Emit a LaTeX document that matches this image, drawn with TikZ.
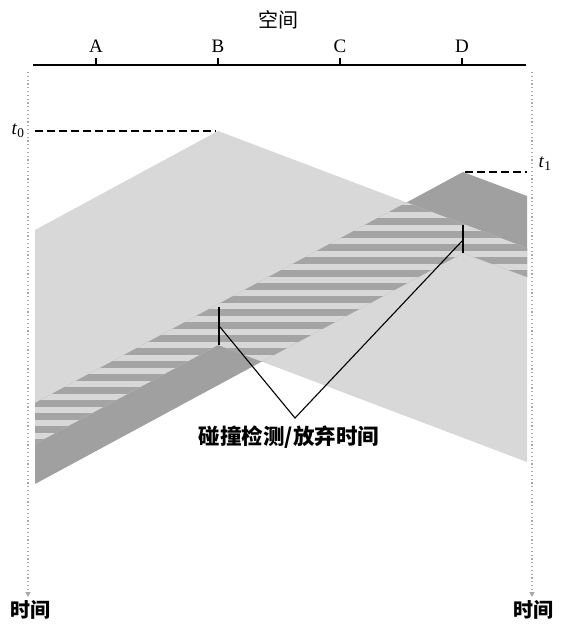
\documentclass[tikz,border=0pt]{standalone}
\usepackage{fontspec}
\setmainfont{Liberation Serif}
\newfontfamily\cjk{Noto Sans CJK SC}
\usetikzlibrary{arrows.meta}
\definecolor{lightsig}{HTML}{D8D8D8}
\definecolor{darksig}{HTML}{A0A0A0}
\definecolor{stripedark}{HTML}{A4A4A4}
\definecolor{dotgray}{HTML}{A8A8A8}
\tikzset{
  poslbl/.style={font=\fontsize{19}{22}\selectfont, inner sep=0pt},
  cjkreg/.style={font=\cjk\fontsize{20}{24}\selectfont, inner sep=0pt},
  cjkbold/.style={font=\cjk\bfseries\fontsize{20}{24}\selectfont, inner sep=0pt},
  cjkbig/.style={font=\cjk\bfseries\fontsize{21.5}{25}\selectfont, inner sep=0pt},
  timeaxis/.style={dotgray, line width=1.2pt, dash pattern=on 1.2pt off 2.6pt, -{Triangle[width=5pt,length=5pt]}},
  tmark/.style={line width=1.2pt, dash pattern=on 8pt off 4pt},
  cdbar/.style={line width=2.6pt},
  leader/.style={line width=1.1pt}
}
\begin{document}
\begin{tikzpicture}[x=1pt,y=-1pt]
\useasboundingbox (0,0) rectangle (563,626);

% signal from B (light) and from D (dark)
\def\Bpoly{(35,230) -- (218,131) -- (527,248) -- (527,462) -- (218,345) -- (35,444) -- cycle}
\def\Dpoly{(35,403) -- (463,172) -- (527,196) -- (527,277) -- (463,253) -- (35,484) -- cycle}
\fill[lightsig] \Bpoly;
\fill[darksig] \Dpoly;
\begin{scope}
  \clip \Bpoly;
  \fill[lightsig] \Dpoly;
  \clip \Dpoly;
  \foreach \k in {-8,...,16}{
    \fill[stripedark] (30,{283+13*\k}) rectangle (530,{289.5+13*\k});
  }
\end{scope}

% space axis
\draw[line width=1.2pt] (33,65) -- (526,65);
\foreach \x/\n in {96/A,218/B,340/C,462/D}{
  \draw[line width=1.2pt] (\x,65) -- (\x,58);
  \node[poslbl] (lbl\n) at (\x,46) {\n};
}
\node[cjkreg] (space) at (278,20) {空间};

% time axes
\coordinate (tlTop) at (28,72);
\coordinate (tlBot) at (28,597);
\coordinate (trTop) at (532,72);
\coordinate (trBot) at (532,597);
\draw[timeaxis] (tlTop) -- (tlBot);
\draw[timeaxis] (trTop) -- (trBot);
\node[cjkbold] (timeL) at (30,610) {时间};
\node[cjkbold] (timeR) at (533,610) {时间};

% start times
\node[poslbl] (t0) at (18,131) {\textit{t}\textsubscript{0}};
\coordinate (t0a) at (35,131);
\coordinate (t0b) at (216,131);
\draw[tmark] (t0a) -- (t0b);
\node[poslbl] (t1) at (545,164) {\textit{t}\textsubscript{1}};
\coordinate (t1a) at (465,172);
\coordinate (t1b) at (527,172);
\draw[tmark] (t1a) -- (t1b);

% collision detection bars
\draw[cdbar] (219,307) -- (219,345);
\draw[cdbar] (463,225) -- (463,253);

% label and leaders
\node[cjkbig] (cd) at (289,437) {碰撞检测/放弃时间};
\coordinate (bB) at (220,327);
\coordinate (dD) at (463,240);
\coordinate (apex) at (295,418);
\draw[leader] (bB) -- (apex) -- (dD);
\end{tikzpicture}
\end{document}
